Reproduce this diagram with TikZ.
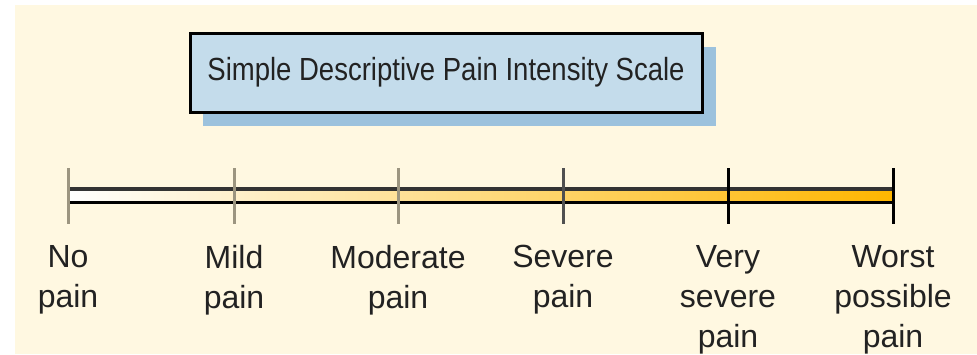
\documentclass[tikz,border=0pt]{standalone}
\usepackage{fontspec}
\setmainfont{Liberation Sans}
\newfontfamily\titlefont[FakeStretch=0.86]{Liberation Sans}
\usepackage{xcolor}
\usetikzlibrary{positioning}

\definecolor{paper}{HTML}{FFF8E1}
\definecolor{titlefill}{HTML}{C4DCEB}
\definecolor{titleshade}{HTML}{9CC2DD}
\definecolor{barmid}{HTML}{FFDE72}
\definecolor{barorange}{HTML}{FFB600}
\definecolor{tickgray}{HTML}{9C9580}
\definecolor{tickdark}{HTML}{505050}
\definecolor{inktext}{HTML}{222222}

\begin{document}
\begin{tikzpicture}[x=0.5pt, y=-0.5pt,
  titlebox/.style={draw=black, line width=1.5pt, fill=titlefill,
    minimum width=256pt, minimum height=39.5pt, inner sep=0pt,
    font=\titlefont\fontsize{16}{19}\selectfont, text=inktext},
  painlabel/.style={anchor=north, align=center, inner sep=0pt,
    font=\fontsize{16}{20}\selectfont, text=inktext},
  scaletick/.style={line width=1.5pt}
]

% Paper
\useasboundingbox (0,0) rectangle (977,354);
\fill[white] (0,0) rectangle (977,354);
\fill[paper] (15,5) rectangle (977,354);

% Title with shadow
\fill[titleshade] (203,47) rectangle (716,126);
\node[titlebox] (title) at (446,72.5) {Simple Descriptive Pain Intensity Scale};

% Scale bar
\shade[left color=white, middle color=barmid, right color=barorange]
  (68,190) rectangle (893,201);
\coordinate (barstart) at (68,189);
\coordinate (barend) at (893,189);
\draw[line width=2pt, draw=black!80] (barstart) -- (barend);
\draw[line width=1.5pt] ([yshift=-6.5pt]barstart) -- ([yshift=-6.5pt]barend);

% Ticks and labels
\foreach \x/\c/\txt [count=\i] in {68/tickgray/{No\\pain},
    234/tickgray/{Mild\\pain}, 398/tickgray/{Moderate\\pain},
    563/tickdark/{Severe\\pain}, 728/black/{Very\\severe\\pain},
    893/black/{Worst\\possible\\pain}}{
  \coordinate (tick\i) at (\x,168);
  \draw[scaletick, draw=\c] (tick\i) -- ++(0,56);
  \node[painlabel] (lab\i) at (\x,245) {\txt};
}

\end{tikzpicture}
\end{document}
